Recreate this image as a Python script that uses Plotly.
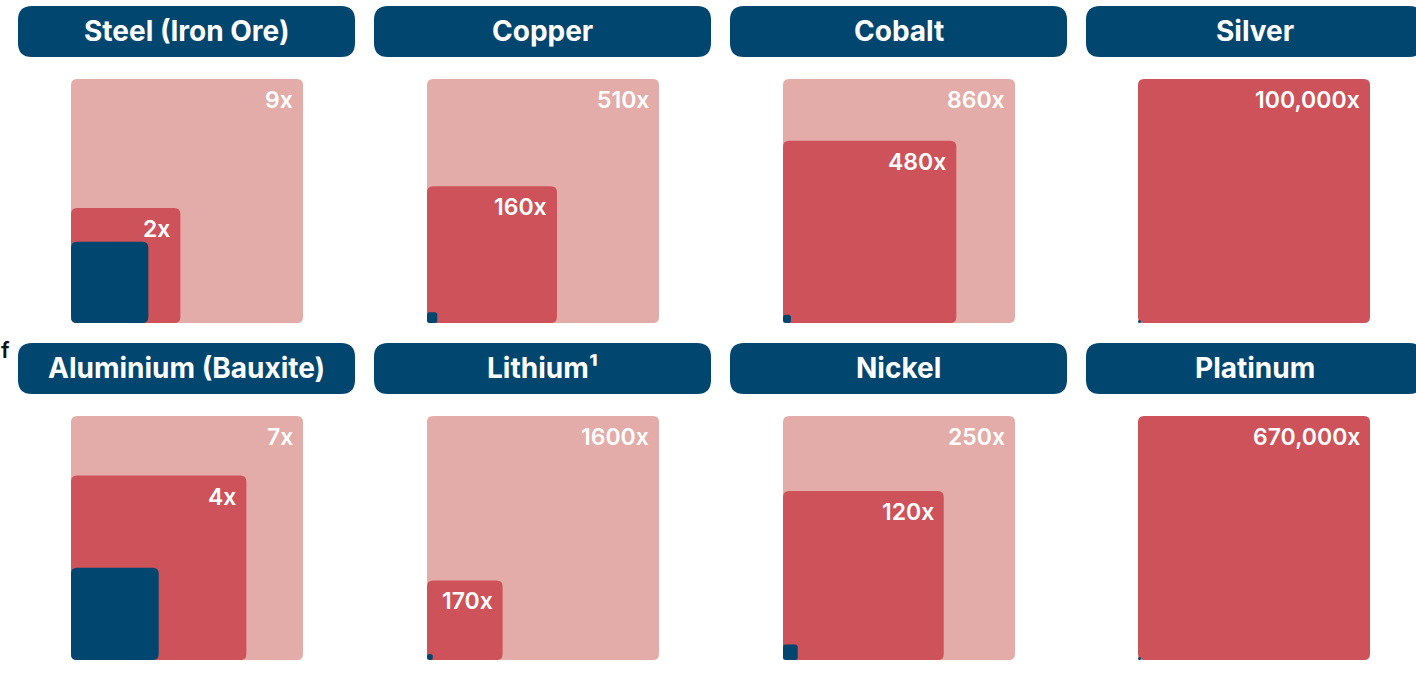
import math
import plotly.graph_objects as go

# ---- data -------------------------------------------------------------
metals = ["Steel (Iron Ore)", "Copper", "Cobalt", "Silver",
          "Aluminium (Bauxite)", "Lithium¹", "Nickel", "Platinum"]
# multiples of the base tier (1x); None where the outer tier is absent
outer_multiple = [9, 510, 860, None, 7, 1600, 250, None]
middle_multiple = [2, 160, 480, 100000, 4, 170, 120, 670000]
base_multiple = [1, 1, 1, 1, 1, 1, 1, 1]

# ---- styling ----------------------------------------------------------
W, H = 1416, 681
NAVY = "#01466F"
RED = "#CD525A"
PINK = "#E4ACA8"
FONT = "Inter"

col_left = [71, 427, 783, 1138]
row_top = [79, 416]
SQ_W, SQ_H = 232, 244
banner_left = [18, 374, 730, 1086]
banner_top = [6, 343]
BAN_W, BAN_H = 337, 51


def fmt(v):
    return f"{v:,}x" if v >= 10000 else f"{v}x"


def rounded_path(x0, y0, x1, y1, rx, ry):
    rx = min(rx, (x1 - x0) / 2)
    ry = min(ry, (y1 - y0) / 2)
    return (f"M{x0 + rx},{y0} L{x1 - rx},{y0} Q{x1},{y0} {x1},{y0 + ry} "
            f"L{x1},{y1 - ry} Q{x1},{y1} {x1 - rx},{y1} "
            f"L{x0 + rx},{y1} Q{x0},{y1} {x0},{y1 - ry} "
            f"L{x0},{y0 + ry} Q{x0},{y0} {x0 + rx},{y0} Z")


fig = go.Figure()
shapes = []
annotations = []
layout_axes = {}

for i, name in enumerate(metals):
    r, c = divmod(i, 4)
    ax = "" if i == 0 else str(i + 1)
    xa, ya = "x" + ax, "y" + ax

    tiers = [(outer_multiple[i], PINK), (middle_multiple[i], RED),
             (base_multiple[i], NAVY)]
    vmax = max(v for v, _ in tiers if v is not None)
    R = math.sqrt(vmax)

    left, top = col_left[c], row_top[r]
    layout_axes["xaxis" + ax] = dict(
        domain=[left / W, (left + SQ_W) / W], range=[0, R],
        visible=False, fixedrange=True, anchor=ya)
    layout_axes["yaxis" + ax] = dict(
        domain=[1 - (top + SQ_H) / H, 1 - top / H], range=[0, R],
        visible=False, fixedrange=True, anchor=xa)

    # invisible trace to register the axes
    fig.add_trace(go.Scatter(x=[0, R], y=[0, R], xaxis=xa, yaxis=ya,
                             mode="markers", marker=dict(opacity=0),
                             hoverinfo="skip", showlegend=False))

    ux = R / SQ_W  # data units per pixel
    uy = R / SQ_H
    for v, colour in tiers:
        if v is None:
            continue
        s = math.sqrt(v)
        # keep very small tiers visible as a dot
        sx = max(s, 3 * ux)
        sy = max(s, 3 * uy)
        rad = 6 if s / ux > 40 else 2.5
        shapes.append(dict(type="path", xref=xa, yref=ya,
                           path=rounded_path(0, 0, sx, sy, rad * ux, rad * uy),
                           fillcolor=colour, line=dict(width=0), layer="above"))
        if colour != NAVY:
            annotations.append(dict(
                x=s, y=s, xref=xa, yref=ya, text=fmt(v), showarrow=False,
                xanchor="right", yanchor="top", xshift=-8, yshift=-5,
                font=dict(family=FONT, size=23, color="white", weight=600)))

    # title banner
    bl, bt = banner_left[c], banner_top[r]
    shapes.append(dict(type="path", xref="paper", yref="paper",
                       path=rounded_path(bl / W, 1 - (bt + BAN_H) / H,
                                         (bl + BAN_W) / W, 1 - bt / H,
                                         14 / W, 14 / H),
                       fillcolor=NAVY, line=dict(width=0), layer="above"))
    annotations.append(dict(
        x=(bl + BAN_W / 2) / W, y=1 - (bt + BAN_H / 2 - 1) / H,
        xref="paper", yref="paper", text=name, showarrow=False,
        xanchor="center", yanchor="middle",
        font=dict(family=FONT, size=28, color="white", weight=700)))

# small glyph at the left edge
annotations.append(dict(x=0, y=1 - 350 / H, xref="paper", yref="paper",
                        text="f", showarrow=False, xanchor="left",
                        yanchor="middle", xshift=-1,
                        font=dict(family=FONT, size=22, color="#111111",
                                  weight=600)))

fig.update_layout(
    width=W, height=H, margin=dict(l=0, r=0, t=0, b=0),
    paper_bgcolor="white", plot_bgcolor="rgba(0,0,0,0)",
    showlegend=False, shapes=shapes, annotations=annotations,
    **layout_axes)

fig.write_html("out.html", config=dict(displayModeBar=False))
